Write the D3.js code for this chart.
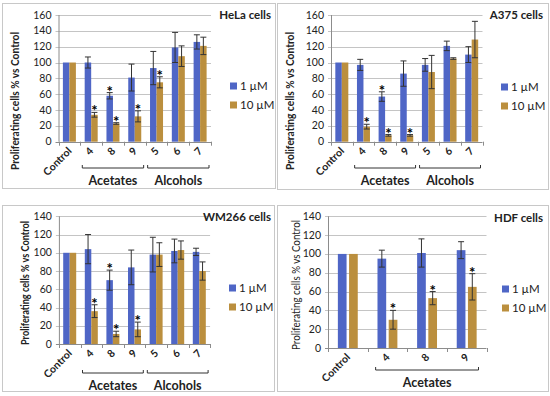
<!DOCTYPE html>
<html>
<head>
<meta charset="utf-8">
<script src="https://cdn.jsdelivr.net/npm/d3@7"></script>
<style>
  body { margin: 0; background: #fff; }
  svg { display: block; font-family: Lato, "Open Sans", sans-serif; }
</style>
</head>
<body>
<svg></svg>
<script>
// categories and series
const categories = ['Control', '4', '8', '9', '5', '6', '7'];
const categoriesHdf = ['Control', '4', '8', '9'];
const seriesNames = ['1 \u00b5M', '10 \u00b5M'];
const acetates = ['4', '8', '9'];
const alcohols = ['5', '6', '7'];

// HeLa
const hela1 = [100, 100, 58, 81, 93, 119, 126];
const hela1Err = [0, 7, 4, 17, 21, 19, 9];
const hela10 = [100, 34, 23, 32, 75, 108, 121];
const hela10Err = [0, 3, 1, 7, 7, 13, 11];
const hela1Star = ['8'];
const hela10Star = ['4', '8', '9', '5'];

// A375
const a375_1 = [100, 97, 57, 86, 97, 121, 110];
const a375_1Err = [0, 7, 6, 16, 8, 6, 10];
const a375_10 = [100, 19, 8, 8, 88, 105, 129];
const a375_10Err = [0, 3, 1, 1, 21, 1, 23];
const a375_1Star = ['8'];
const a375_10Star = ['4', '8', '9'];

// WM266
const wm1 = [100, 104, 70, 84, 98, 102, 101];
const wm1Err = [0, 16, 11, 19, 19, 13, 4];
const wm10 = [100, 36, 11, 16, 98, 103, 80];
const wm10Err = [0, 7, 3, 8, 13, 10, 10];
const wm1Star = ['8'];
const wm10Star = ['4', '8', '9'];

// HDF
const hdf1 = [100, 95, 101, 104];
const hdf1Err = [0, 9, 15, 9];
const hdf10 = [100, 30, 53, 65];
const hdf10Err = [0, 10, 7, 14];
const hdf1Star = [];
const hdf10Star = ['4', '8', '9'];

const colors = ['#4f66c6', '#bb8f3e'];
const yTitle = 'Proliferating cells % vs Control';

let svg = d3.select('svg').attr('width', 550).attr('height', 396);

function drawPanel(p) {
  let g = svg.append('g');

  // panel frame
  g.append('rect')
    .attr('x', p.box[0] + 0.5).attr('y', p.box[1] + 0.5)
    .attr('width', p.box[2] - p.box[0]).attr('height', p.box[3] - p.box[1])
    .attr('fill', 'none').attr('stroke', '#c8c8c8');

  let x = d3.scaleBand().domain(p.cats).range([p.plot.x0, p.plot.x1]);
  let y = d3.scaleLinear().domain([0, p.yMax]).range([p.plot.y1, p.plot.y0]);
  let bw = x.bandwidth();

  // gridlines + y labels
  let ticks = d3.range(0, p.yMax + 1, 20);
  g.selectAll('.grid').data(ticks).join('line')
    .attr('x1', p.plot.x0 - 3).attr('x2', p.plot.x1)
    .attr('y1', d => Math.round(y(d)) + 0.5).attr('y2', d => Math.round(y(d)) + 0.5)
    .attr('stroke', d => d === 0 ? '#8c8c8c' : '#c4c4c4');
  g.selectAll('.ylab').data(ticks).join('text')
    .attr('x', p.plot.x0 - 7).attr('y', d => y(d) + 3.5)
    .attr('text-anchor', 'end').attr('font-size', 10.5).attr('fill', '#222')
    .text(d => d);
  g.append('line')
    .attr('x1', p.plot.x0 + 0.5).attr('x2', p.plot.x0 + 0.5)
    .attr('y1', p.plot.y0).attr('y2', p.plot.y1)
    .attr('stroke', '#8c8c8c');

  // x tick marks at band edges
  let edges = p.cats.map(c => x(c)).concat([p.plot.x1]);
  g.selectAll('.xt').data(edges).join('line')
    .attr('x1', d => Math.round(d) + 0.5).attr('x2', d => Math.round(d) + 0.5)
    .attr('y1', p.plot.y1).attr('y2', p.plot.y1 + 4)
    .attr('stroke', '#8c8c8c');

  // bars
  p.series.forEach((s, i) => {
    let off = i === 0 ? -p.gap / 2 - p.barW : p.gap / 2;
    let bars = g.append('g');
    bars.selectAll('rect').data(s.values).join('rect')
      .attr('x', (d, j) => x(p.cats[j]) + bw / 2 + off)
      .attr('y', d => y(d))
      .attr('width', p.barW)
      .attr('height', d => y(0) - y(d))
      .attr('fill', colors[i]);

    // error bars
    s.values.forEach((v, j) => {
      let e = s.err[j];
      if (!e) return;
      let cx = x(p.cats[j]) + bw / 2 + off + p.barW / 2;
      let eg = g.append('g').attr('stroke', '#333').attr('stroke-width', 1);
      eg.append('line').attr('x1', cx).attr('x2', cx).attr('y1', y(v + e)).attr('y2', y(v - e));
      eg.append('line').attr('x1', cx - 3).attr('x2', cx + 3).attr('y1', y(v + e)).attr('y2', y(v + e));
      eg.append('line').attr('x1', cx - 3).attr('x2', cx + 3).attr('y1', y(v - e)).attr('y2', y(v - e));
    });

    // significance stars
    s.stars.forEach(c => {
      let j = p.cats.indexOf(c);
      let cx = x(c) + bw / 2 + off + p.barW / 2;
      g.append('text')
        .attr('x', cx).attr('y', y(s.values[j] + s.err[j]) + 4)
        .attr('text-anchor', 'middle').attr('font-size', 15).attr('font-weight', 'bold')
        .text('*');
    });
  });

  // rotated category labels
  g.selectAll('.xlab').data(p.cats).join('text')
    .attr('transform', d => `translate(${x(d) + bw / 2 + 3},${p.plot.y1 + 10}) rotate(-45)`)
    .attr('text-anchor', 'end').attr('font-size', 10.5).attr('font-weight', 'bold')
    .attr('fill', '#222')
    .text(d => d);

  // group brackets
  p.groups.forEach(gr => {
    let a = x(gr.members[0]) + p.inset;
    let b = x(gr.members[gr.members.length - 1]) + bw - p.inset;
    g.append('path')
      .attr('d', `M${a},${p.bracketY - 3}V${p.bracketY}H${b}V${p.bracketY - 3}`)
      .attr('fill', 'none').attr('stroke', '#333');
    g.append('text')
      .attr('x', (a + b) / 2).attr('y', p.bracketY + 17)
      .attr('text-anchor', 'middle').attr('font-size', 12.5).attr('font-weight', 'bold')
      .attr('fill', '#222')
      .text(gr.name);
  });

  // axis title
  g.append('text')
    .attr('transform', `translate(${p.yTitle[0]},${p.yTitle[1]}) rotate(-90)`)
    .attr('text-anchor', 'middle').attr('font-size', p.yTitle[3])
    .attr('font-weight', p.yTitleBold ? 'bold' : 'normal')
    .attr('textLength', p.yTitle[2]).attr('lengthAdjust', 'spacingAndGlyphs')
    .attr('fill', '#222')
    .text(yTitle);

  // panel title
  g.append('text')
    .attr('x', p.title[0]).attr('y', p.title[1])
    .attr('text-anchor', 'end').attr('font-size', 11.5).attr('font-weight', 'bold')
    .attr('fill', '#222')
    .text(p.name);

  // legend
  seriesNames.forEach((n, i) => {
    let ly = p.legend[1] + i * 19;
    g.append('rect')
      .attr('x', p.legend[0]).attr('y', ly - 3.5)
      .attr('width', 7).attr('height', 7).attr('fill', colors[i]);
    g.append('text')
      .attr('x', p.legend[0] + 10).attr('y', ly + 4)
      .attr('font-size', 11.5).attr('fill', '#222')
      .text(n);
  });
}

function seriesOf(v1, e1, s1, v10, e10, s10) {
  return [
    { values: v1, err: e1, stars: s1 },
    { values: v10, err: e10, stars: s10 }
  ];
}

const groupsFull = [{ name: 'Acetates', members: acetates }, { name: 'Alcohols', members: alcohols }];
const groupsHdf = [{ name: 'Acetates', members: acetates }];

drawPanel({
  name: 'HeLa cells', cats: categories,
  series: seriesOf(hela1, hela1Err, hela1Star, hela10, hela10Err, hela10Star),
  box: [2, 3, 275, 188], plot: { x0: 58.5, x1: 211, y0: 15, y1: 141.7 }, yMax: 160,
  barW: 6.5, gap: 0, inset: 2, bracketY: 168, groups: groupsFull,
  yTitle: [19, 101, 138, 11.5], yTitleBold: true, title: [271, 19], legend: [230, 86]
});

drawPanel({
  name: 'A375 cells', cats: categories,
  series: seriesOf(a375_1, a375_1Err, a375_1Star, a375_10, a375_10Err, a375_10Star),
  box: [277, 3, 548, 189], plot: { x0: 331, x1: 482.5, y0: 15, y1: 141.7 }, yMax: 160,
  barW: 6.5, gap: 0, inset: 2, bracketY: 168, groups: groupsFull,
  yTitle: [294, 101, 138, 11.5], yTitleBold: true, title: [543, 19], legend: [501, 87]
});

drawPanel({
  name: 'WM266 cells', cats: categories,
  series: seriesOf(wm1, wm1Err, wm1Star, wm10, wm10Err, wm10Star),
  box: [2, 205, 274, 391], plot: { x0: 58.9, x1: 210.1, y0: 216.3, y1: 344 }, yMax: 140,
  barW: 6.5, gap: 0, inset: 2, bracketY: 373, groups: groupsFull,
  yTitle: [28.5, 283, 124, 10.5], yTitleBold: true, title: [271, 221], legend: [229, 288]
});

drawPanel({
  name: 'HDF cells', cats: categoriesHdf,
  series: seriesOf(hdf1, hdf1Err, hdf1Star, hdf10, hdf10Err, hdf10Star),
  box: [277, 205, 548, 391], plot: { x0: 328, x1: 486.5, y0: 216.3, y1: 348 }, yMax: 140,
  barW: 8.7, gap: 2.5, inset: 8, bracketY: 370, groups: groupsHdf,
  yTitle: [299.5, 285, 130, 11], yTitleBold: false, title: [543, 222], legend: [502, 289]
});
</script>
</body>
</html>
